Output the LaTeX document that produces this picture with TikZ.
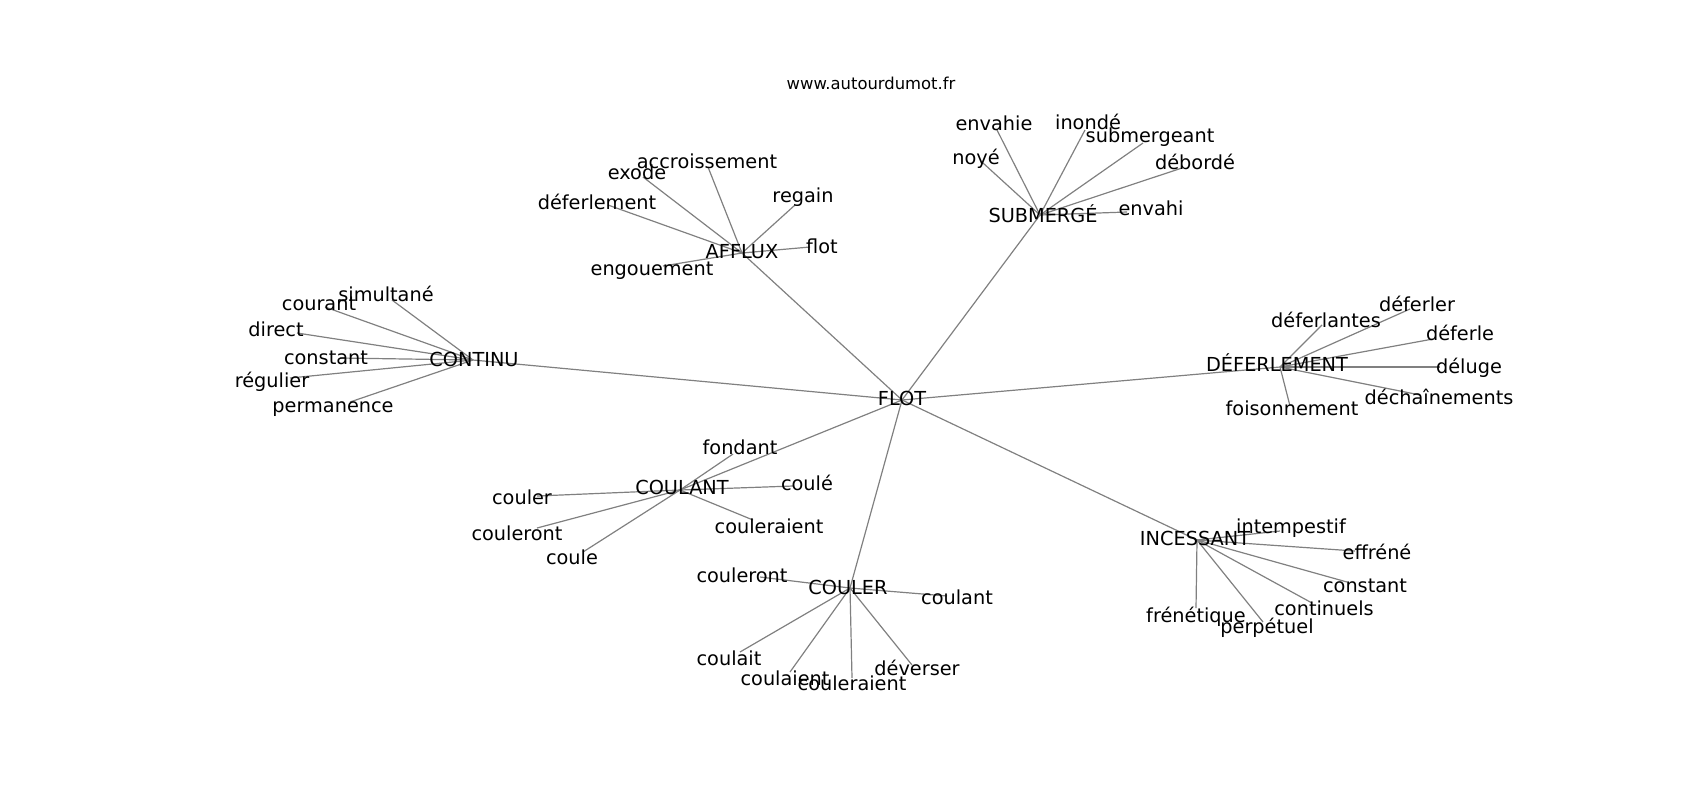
\documentclass[tikz,border=0pt]{standalone}
\usepackage{fontspec}
\setmainfont{DejaVu Sans}
\pgfdeclarelayer{background}
\pgfsetlayers{background,main}

\begin{document}
\begin{tikzpicture}[x=0.5pt,y=-0.5pt,
  every node/.style={font=\fontsize{9.65}{11}\selectfont,inner sep=0pt,
    text height=0.73em,text depth=0pt},
  site/.style={font=\fontsize{8.2}{10}\selectfont},
  edge/.style={draw=gray,line width=0.6pt}]
\useasboundingbox (0,0) rectangle (1700,800);
\node[site] (site) at (871,82) {www.autourdumot.fr};

% centre and the seven groups
\coordinate (flot) at (902,400);
\node (flot-l) at (902,398) {FLOT};
\foreach \h/\hx/\hy/\lx/\ly/\t in {afflux/742/253/742/251/AFFLUX,
    submerge/1040/215/1043/215/SUBMERGÉ,
    continu/473/360/474/359/CONTINU,
    deferlement/1280/367/1277/364/DÉFERLEMENT,
    coulant/680/490/682/487/COULANT,
    couler/850/588/848/587/COULER,
    incessant/1197/540/1195/538/INCESSANT}{
  \coordinate (\h) at (\hx,\hy);
  \node (\h-l) at (\lx,\ly) {\t};
  \begin{pgfonlayer}{background}
    \draw[edge] (flot) -- (\h);
  \end{pgfonlayer}
}

% leaves: hub / end of edge / label / text
\foreach \h/\ex/\ey/\lx/\ly/\t [count=\i] in {
    afflux/708/167/707/161/accroissement, afflux/643/177/637/172/exode,
    afflux/608/205/597/202/déferlement, afflux/795/205/803/195/regain,
    afflux/810/247/822/246/flot, afflux/663/266/652/268/engouement,
    submerge/997/130/994/123/envahie, submerge/1085/130/1088/122/inondé,
    submerge/1143/143/1150/135/submergeant, submerge/983/163/976/157/noyé,
    submerge/1182/168/1195/162/débordé, submerge/1127/212/1151/208/envahi,
    continu/392/300/386/294/simultané, continu/325/307/319/303/courant,
    continu/297/333/276/329/direct, continu/340/358/326/357/constant,
    continu/290/378/272/380/régulier, continu/350/402/333/405/permanence,
    deferlement/1410/309/1417/304/déferler, deferlement/1322/325/1326/320/déferlantes,
    deferlement/1433/339/1460/333/déferle, deferlement/1440/367/1469/366/déluge,
    deferlement/1420/395/1439/397/déchaînements, deferlement/1290/406/1292/408/foisonnement,
    coulant/733/454/740/447/fondant, coulant/793/486/807/483/coulé,
    coulant/537/496/522/497/couler, coulant/537/528/517/533/couleront,
    coulant/753/520/769/526/couleraient, coulant/583/552/572/557/coule,
    couler/760/577/742/575/couleront, couler/947/596/957/597/coulant,
    couler/740/652/729/658/coulait, couler/790/672/785/678/coulaient,
    couler/852/678/852/683/couleraient, couler/912/665/917/668/déverser,
    incessant/1280/531/1291/526/intempestif, incessant/1355/551/1377/552/effréné,
    incessant/1347/582/1365/585/constant, incessant/1312/603/1324/608/continuels,
    incessant/1196/608/1196/615/frénétique, incessant/1263/622/1267/626/perpétuel}{
  \coordinate (w\i) at (\ex,\ey);
  \node (w\i-l) at (\lx,\ly) {\t};
  \begin{pgfonlayer}{background}
    \draw[edge] (\h) -- (w\i);
  \end{pgfonlayer}
}
\end{tikzpicture}
\end{document}
